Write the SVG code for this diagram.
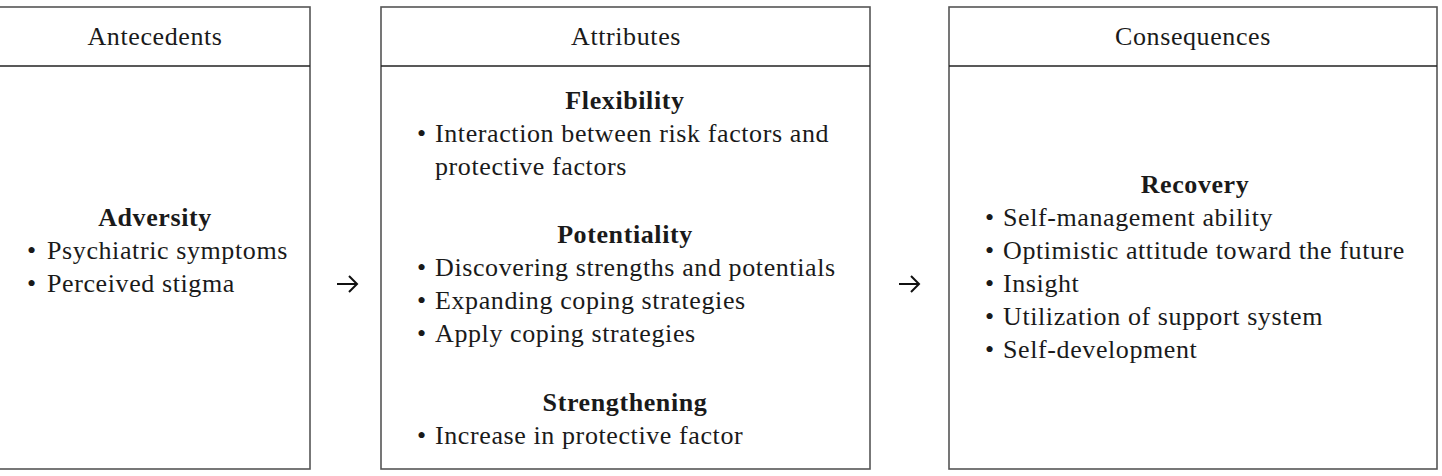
<svg xmlns="http://www.w3.org/2000/svg" width="1442" height="476" viewBox="0 0 1442 476">
<style>
.box{fill:#fff;stroke:#555;stroke-width:1.6}
.div{stroke:#222;stroke-width:1.4}
text{font-family:"Liberation Serif","Times New Roman",serif;font-size:26px;fill:#1a1a1a;letter-spacing:0.6px}
.h{text-anchor:middle}
.b{font-weight:bold;text-anchor:middle}
.arr{fill:none;stroke:#111;stroke-width:2}
</style>
<rect width="1442" height="476" fill="#fff"/>
<g id="antecedents">
<rect class="box" x="-1" y="7" width="311" height="462"/>
<line class="div" x1="-1" y1="66" x2="310" y2="66"/>
<text class="h" x="155" y="45">Antecedents</text>
<text class="b" x="155" y="226">Adversity</text>
<text y="259"><tspan x="27">•</tspan><tspan x="47">Psychiatric symptoms</tspan></text>
<text y="292"><tspan x="27">•</tspan><tspan x="47">Perceived stigma</tspan></text>
</g>
<g id="attributes">
<rect class="box" x="381" y="7" width="489" height="462"/>
<line class="div" x1="381" y1="66" x2="870" y2="66"/>
<text class="h" x="626" y="45">Attributes</text>
<text class="b" x="625" y="109">Flexibility</text>
<text y="142"><tspan x="417">•</tspan><tspan x="435">Interaction between risk factors and</tspan></text>
<text x="435" y="175">protective factors</text>
<text class="b" x="625" y="243">Potentiality</text>
<text y="276"><tspan x="417">•</tspan><tspan x="435">Discovering strengths and potentials</tspan></text>
<text y="309"><tspan x="417">•</tspan><tspan x="435">Expanding coping strategies</tspan></text>
<text y="342"><tspan x="417">•</tspan><tspan x="435">Apply coping strategies</tspan></text>
<text class="b" x="625" y="411">Strengthening</text>
<text y="444"><tspan x="417">•</tspan><tspan x="435">Increase in protective factor</tspan></text>
</g>
<g id="consequences">
<rect class="box" x="949" y="7" width="488" height="462"/>
<line class="div" x1="949" y1="66" x2="1437" y2="66"/>
<text class="h" x="1193" y="45">Consequences</text>
<text class="b" x="1195" y="193">Recovery</text>
<text y="226"><tspan x="985">•</tspan><tspan x="1003">Self-management ability</tspan></text>
<text y="259"><tspan x="985">•</tspan><tspan x="1003">Optimistic attitude toward the future</tspan></text>
<text y="292"><tspan x="985">•</tspan><tspan x="1003">Insight</tspan></text>
<text y="325"><tspan x="985">•</tspan><tspan x="1003">Utilization of support system</tspan></text>
<text y="358"><tspan x="985">•</tspan><tspan x="1003">Self-development</tspan></text>
</g>
<g id="connectors">
<path class="arr" d="M337 284H357M349 276L357 284L349 292"/>
<path class="arr" d="M899 284H919M911 276L919 284L911 292"/>
</g>
</svg>
